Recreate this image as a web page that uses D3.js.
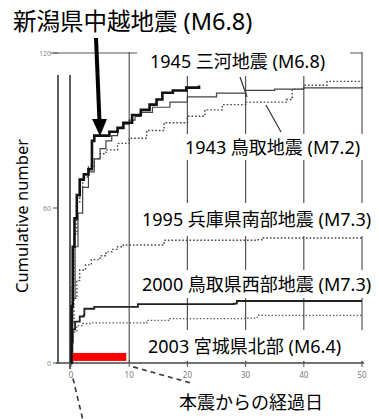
<!DOCTYPE html>
<html>
<head>
<meta charset="utf-8">
<script src="https://cdn.jsdelivr.net/npm/d3@7"></script>
<style>
  body { margin: 0; background: #fff; }
  svg { display: block; }
</style>
</head>
<body>
<svg id="chart" width="379" height="419"></svg>
<script>
// days since the main shock, cumulative aftershock count
var chuetsu = [[0,0],[0.1,22],[0.3,45],[0.6,56],[1,65],[1.5,71],[2.2,73],[3,75],[3.6,86],[4,88],[6.6,89.5],[8,91],[9,93],[10.5,96],[12,98],[13.5,100],[14.7,102],[15.7,104.6],[17.5,105.5],[19.8,106.6],[22,107.4]];
var mikawa = [[0,0],[0.3,25],[0.7,45],[1.2,58],[2,68],[3,74],[4,79],[5,83],[6,86],[7,88],[8,91],[9,92.5],[10,94],[11,95.5],[12,97],[14,99],[17,101],[20,103],[25,104.5],[30,105.5],[35,106],[40,106.5],[50,107]];
var tottori1943 = [[0,0],[0.2,30],[0.5,50],[1,62],[1.5,68],[2,72],[3,76],[4,79],[5,81],[6,82.5],[8,85],[10,87],[13,90],[16,93],[20,95.5],[23,98],[26,100],[30,101],[37,102],[38,106],[40,107.5],[44,109],[50,109]];
var hyogo = [[0,0],[0.2,15],[0.5,25],[1,32],[1.5,36],[2.5,38],[3.5,40],[5,41.5],[6,43],[7,44],[8,45],[9,45.7],[15.5,45.7],[16,47.5],[32,47.7],[33,48.4],[50,48.4]];
var tottori2000 = [[0,0],[0.1,8],[0.3,13],[0.7,16],[1.5,18],[2.2,18.5],[2.3,21],[4,21.7],[11,21.7],[11.5,22.8],[28,23],[28.5,24],[50,24]];
var miyagi = [[0,0],[0.1,8],[0.3,12],[1,14.5],[2,15.3],[3.5,15.5],[11,15.5],[13,16.5],[17,17.2],[30,17.4],[32,18.4],[50,18.4]];
var redBar = {from: 0.3, to: 9.5, low: 0.8, high: 3.9};

var xTicks = [0, 10, 20, 30, 40, 50];
var yTicks = [0, 60, 120];

var labels = [
  {text: "1945 三河地震 (M6.8)", x: 150, y: 62, box: [137, 40, 213, 36]},
  {text: "1943 鳥取地震 (M7.2)", x: 185, y: 148, box: [180, 134, 198, 26]},
  {text: "1995 兵庫県南部地震 (M7.3)", x: 142, y: 220, box: [137, 203, 242, 33]},
  {text: "2000 鳥取県西部地震 (M7.3)", x: 142, y: 285, box: [137, 270, 242, 28]},
  {text: "2003 宮城県北部 (M6.4)", x: 148, y: 347, box: [135, 330, 240, 31]}
];

var svg = d3.select("#chart");
var font = "'Noto Sans', 'Noto Sans CJK JP', sans-serif";

var x = d3.scaleLinear().domain([0, 50]).range([71, 362]);
var y = d3.scaleLinear().domain([0, 120]).range([363, 53]);

var g = svg.append("g");

// scanned frame & grid
var gridCol = "#555";
g.selectAll(".vgrid").data(xTicks.slice(1))
  .enter().append("line")
  .attr("x1", function(d) { return x(d); })
  .attr("x2", function(d) { return x(d); })
  .attr("y1", y(120) - 1)
  .attr("y2", y(0))
  .attr("stroke", gridCol)
  .attr("stroke-width", 1.2);

// y axis line (slightly left of day 0) and the day-0 line
g.append("line").attr("x1", 58).attr("x2", 58).attr("y1", 75).attr("y2", y(0))
  .attr("stroke", "#333").attr("stroke-width", 1.6);
g.append("line").attr("x1", x(0) - 1).attr("x2", x(0) - 1).attr("y1", 75).attr("y2", y(0) + 6)
  .attr("stroke", "#333").attr("stroke-width", 1.6);

// top frame
g.append("line").attr("x1", 50).attr("x2", x(50)).attr("y1", y(120)).attr("y2", y(120))
  .attr("stroke", gridCol).attr("stroke-width", 1.2);

// x axis
g.append("line").attr("x1", 56).attr("x2", x(50) + 2).attr("y1", y(0)).attr("y2", y(0))
  .attr("stroke", "#444").attr("stroke-width", 1.4);
g.selectAll(".xtick").data(xTicks).enter().append("line")
  .attr("x1", function(d) { return x(d); }).attr("x2", function(d) { return x(d); })
  .attr("y1", y(0) - 3).attr("y2", y(0) + 4)
  .attr("stroke", "#555").attr("stroke-width", 1);
g.selectAll(".xlab").data(xTicks).enter().append("text")
  .attr("x", function(d) { return x(d); }).attr("y", y(0) + 15)
  .attr("text-anchor", "middle")
  .attr("font-family", font).attr("font-size", 8).attr("fill", "#777")
  .text(function(d) { return d; });

// y ticks
g.selectAll(".ytick").data(yTicks).enter().append("line")
  .attr("x1", 53).attr("x2", 58)
  .attr("y1", function(d) { return y(d); }).attr("y2", function(d) { return y(d); })
  .attr("stroke", "#555").attr("stroke-width", 1);
g.selectAll(".ylab").data(yTicks).enter().append("text")
  .attr("x", 51).attr("y", function(d) { return y(d) + 3; })
  .attr("text-anchor", "end")
  .attr("font-family", font).attr("font-size", 7).attr("fill", "#888")
  .text(function(d) { return d; });

// stray leader strokes from the scan
g.append("line").attr("x1", 240).attr("y1", 77).attr("x2", 247).attr("y2", 97)
  .attr("stroke", "#333").attr("stroke-width", 1.2);
g.append("line").attr("x1", 266).attr("y1", 105).attr("x2", 281).attr("y2", 132)
  .attr("stroke", "#333").attr("stroke-width", 1.2);

// curves
var line = d3.line()
  .x(function(d) { return x(d[0]); })
  .y(function(d) { return y(d[1]); })
  .curve(d3.curveStepAfter);

var series = [
  {data: tottori1943, w: 1.4, dash: "1.6,2", col: "#444"},
  {data: hyogo, w: 1.4, dash: "1.6,2", col: "#444"},
  {data: miyagi, w: 1.3, dash: "1.4,2", col: "#555"},
  {data: mikawa, w: 1.2, dash: null, col: "#444"},
  {data: tottori2000, w: 1.8, dash: null, col: "#222"},
  {data: chuetsu, w: 2.6, dash: null, col: "#111"}
];

g.selectAll(".curve").data(series).enter().append("path")
  .attr("d", function(d) { return line(d.data); })
  .attr("fill", "none")
  .attr("stroke", function(d) { return d.col; })
  .attr("stroke-width", function(d) { return d.w; })
  .attr("stroke-dasharray", function(d) { return d.dash; })
  .attr("stroke-linejoin", "miter");

// red bar
g.append("rect")
  .attr("x", x(redBar.from)).attr("y", y(redBar.high))
  .attr("width", x(redBar.to) - x(redBar.from))
  .attr("height", y(redBar.low) - y(redBar.high))
  .attr("fill", "#ff0000");

// dashed zoom leaders below the axis
g.append("line").attr("x1", x(10) + 4).attr("y1", y(-1.5)).attr("x2", x(21)).attr("y2", y(-8))
  .attr("stroke", "#333").attr("stroke-width", 1.6).attr("stroke-dasharray", "5,4");
g.append("line").attr("x1", x(0) + 2).attr("y1", y(-6)).attr("x2", x(2)).attr("y2", 419)
  .attr("stroke", "#333").attr("stroke-width", 1.6).attr("stroke-dasharray", "5,4");

// labels on white boxes
var lab = svg.append("g");
lab.selectAll("rect").data(labels).enter().append("rect")
  .attr("x", function(d) { return d.box[0]; })
  .attr("y", function(d) { return d.box[1]; })
  .attr("width", function(d) { return d.box[2]; })
  .attr("height", function(d) { return d.box[3]; })
  .attr("fill", "#fff");
lab.selectAll("text").data(labels).enter().append("text")
  .attr("x", function(d) { return d.x; })
  .attr("y", function(d) { return d.y; })
  .attr("dy", "0.35em")
  .attr("font-family", font).attr("font-size", 18).attr("fill", "#000")
  .text(function(d) { return d.text; });

// title and arrow
svg.append("text").attr("x", 13).attr("y", 22).attr("dy", "0.35em")
  .attr("font-family", font).attr("font-size", 23.5).attr("fill", "#000")
  .text("新潟県中越地震 (M6.8)");
svg.append("line").attr("x1", 96).attr("y1", 38).attr("x2", 99.5).attr("y2", 122)
  .attr("stroke", "#000").attr("stroke-width", 4);
svg.append("path")
  .attr("d", "M92,119 L107,119 L100,136 Z")
  .attr("fill", "#000");

// axis titles
svg.append("text").attr("x", 251).attr("y", 403).attr("dy", "0.35em")
  .attr("text-anchor", "middle")
  .attr("font-family", font).attr("font-size", 18).attr("fill", "#000")
  .text("本震からの経過日");
svg.append("text")
  .attr("transform", "translate(22,216) rotate(-90)")
  .attr("text-anchor", "middle").attr("dy", "0.35em")
  .attr("font-family", font).attr("font-size", 16.5).attr("fill", "#000")
  .text("Cumulative number");
</script>
</body>
</html>
